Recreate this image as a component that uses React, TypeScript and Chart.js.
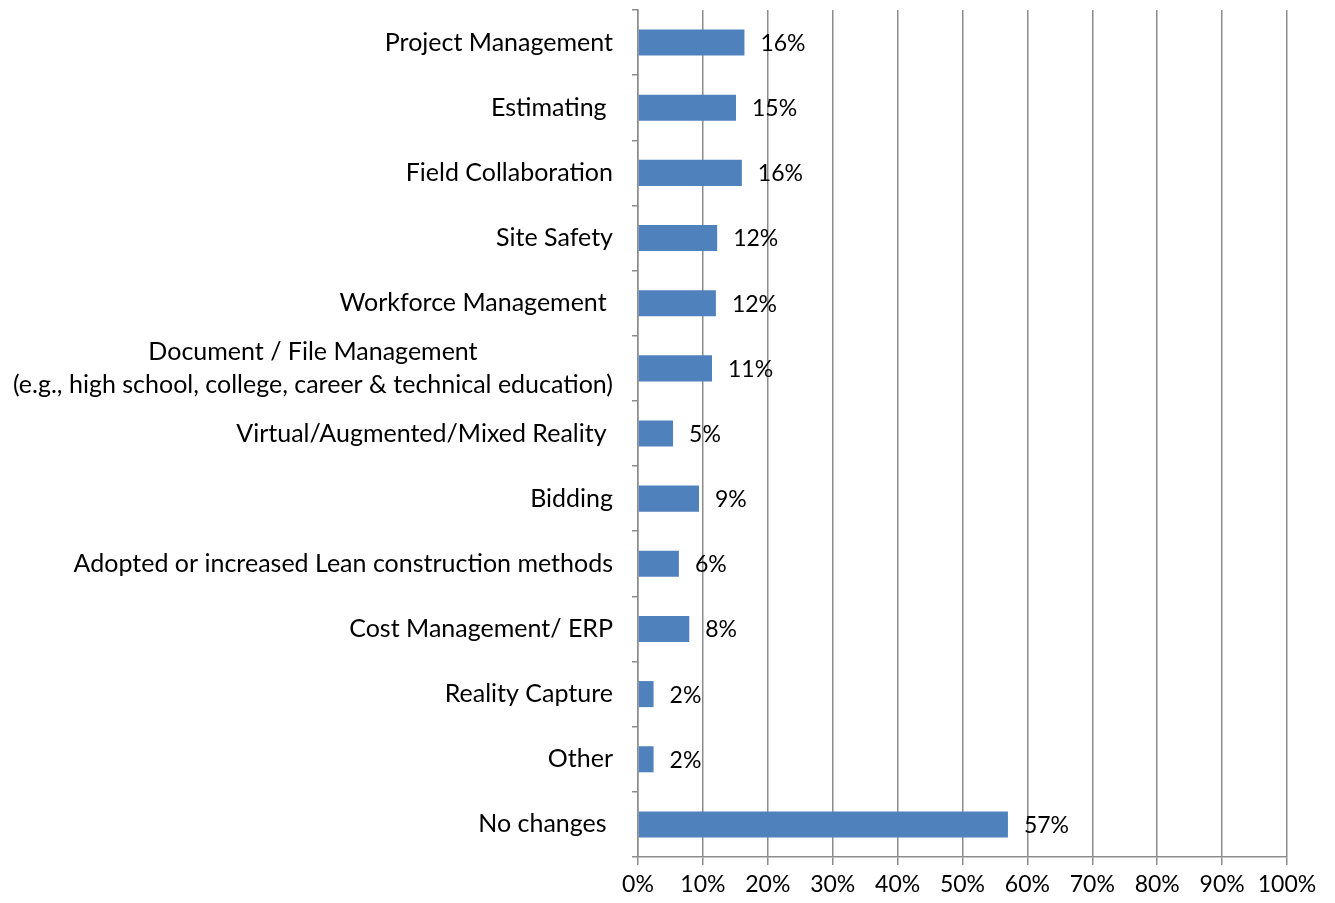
import React, { useEffect, useRef } from "react";
import { Chart, registerables } from "chart.js";

Chart.register(...registerables);

const categories: (string | string[])[] = [
  "Project Management",
  "Estimating ",
  "Field Collaboration",
  "Site Safety",
  "Workforce Management ",
  ["Document / File Management", "(e.g., high school, college, career & technical education)"],
  "Virtual/Augmented/Mixed Reality ",
  "Bidding",
  "Adopted or increased Lean construction methods",
  "Cost Management/ ERP",
  "Reality Capture",
  "Other",
  "No changes ",
];

const values: number[] = [16.4, 15.1, 16.0, 12.2, 12.0, 11.4, 5.4, 9.4, 6.3, 7.9, 2.4, 2.4, 57.0];

const xTickValues: number[] = [0, 10, 20, 30, 40, 50, 60, 70, 80, 90, 100];

const FONT = "Lato, 'Open Sans', sans-serif";
const GRID = "#8c8c8c";

const labelPlugin = {
  id: "customLabels",
  afterDraw(chart: any) {
    const ctx = chart.ctx as CanvasRenderingContext2D;
    const yScale = chart.scales.y;
    ctx.save();
    ctx.font = `25px ${FONT}`;
    ctx.fillStyle = "#000";
    ctx.textBaseline = "middle";
    const rightEdge = yScale.right - 6 - 19;
    categories.forEach((cat, i) => {
      const lines = Array.isArray(cat) ? cat : [cat];
      const widths = lines.map((l) => ctx.measureText(l).width);
      const blockW = Math.max(...widths);
      const cx = rightEdge - blockW / 2;
      const lh = 33;
      const yc = yScale.getPixelForValue(i);
      ctx.textAlign = "center";
      lines.forEach((l, j) => {
        const y = yc + (j - (lines.length - 1) / 2) * lh;
        ctx.fillText(l, cx, y);
      });
    });
    ctx.font = `23px ${FONT}`;
    const meta = chart.getDatasetMeta(0);
    ctx.textAlign = "left";
    meta.data.forEach((bar: any, i: number) => {
      ctx.fillText(Math.round(values[i]) + "%", bar.x + 16, bar.y + 1);
    });
    ctx.restore();
  },
};

export default function App() {
  const ref = useRef<HTMLCanvasElement>(null);
  useEffect(() => {
    document.body.style.margin = "0";
    const chart = new Chart(ref.current!, {
      type: "bar",
      data: {
        labels: categories.map((c) => (Array.isArray(c) ? c.join(" ") : c)),
        datasets: [
          {
            data: values,
            backgroundColor: "#4F81BD",
            borderWidth: 0,
            barPercentage: 0.8,
            categoryPercentage: 0.5,
          },
        ],
      },
      options: {
        indexAxis: "y",
        responsive: false,
        animation: false,
        layout: { padding: { top: 10, right: 48, bottom: 0, left: 0 } },
        plugins: { legend: { display: false }, tooltip: { enabled: false } },
        scales: {
          x: {
            min: 0,
            max: 100,
            afterBuildTicks: (s: any) => {
              s.ticks = xTickValues.map((v) => ({ value: v }));
            },
            afterFit: (s: any) => {
              s.height = 46;
            },
            ticks: {
              font: { family: FONT, size: 23 },
              color: "#000",
              padding: 6,
              callback: (v: any) => v + "%",
              maxRotation: 0,
            },
            grid: { color: GRID, lineWidth: 1.5, tickLength: 8, tickColor: GRID },
            border: { color: GRID, width: 1.5 },
          },
          y: {
            afterFit: (s: any) => {
              s.width = 638;
            },
            ticks: { display: false },
            grid: {
              display: true,
              drawOnChartArea: false,
              drawTicks: true,
              tickLength: 6,
              offset: true,
              color: GRID,
              tickColor: GRID,
              lineWidth: 1.5,
            },
            border: { color: GRID, width: 1.5 },
          },
        },
      },
      plugins: [labelPlugin],
    });
    return () => chart.destroy();
  }, []);
  return (
    <div style={{ width: 1335, height: 903 }}>
      <canvas ref={ref} width={1335} height={903} />
    </div>
  );
}
